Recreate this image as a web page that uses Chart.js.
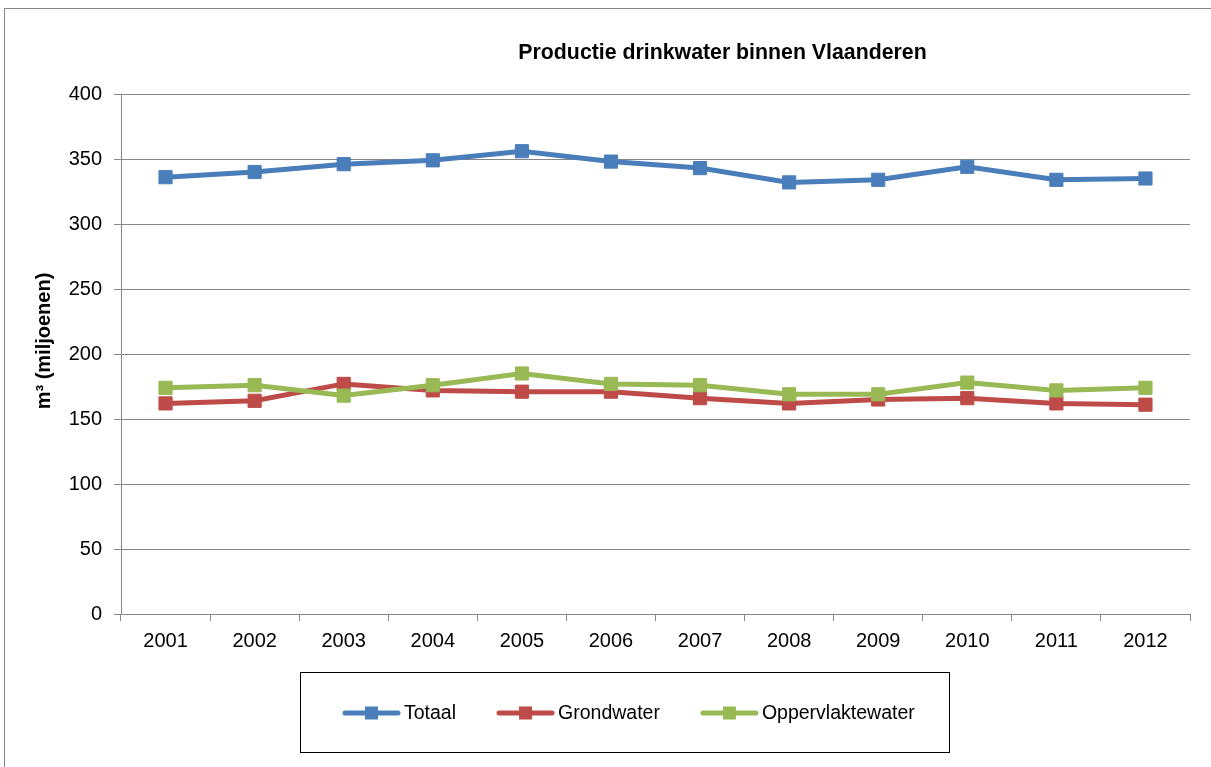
<!DOCTYPE html>
<html><head><meta charset="utf-8">
<script src="https://cdn.jsdelivr.net/npm/chart.js@4"></script>
<style>html,body{margin:0;padding:0;background:#fff}canvas{display:block}</style>
</head><body><canvas id="c" width="1211" height="767"></canvas>
<script>
const chartTitle = 'Productie drinkwater binnen Vlaanderen';
const yAxisTitle = 'm³ (miljoenen)';
const years = ['2001','2002','2003','2004','2005','2006','2007','2008','2009','2010','2011','2012'];
const totaal = [336, 340, 346, 349, 356, 348, 343, 332, 334, 344, 334, 335];
const grondwater = [162, 164, 177, 172, 171, 171, 166, 162, 165, 166, 162, 161];
const oppervlaktewater = [174, 176, 168, 176, 185, 177, 176, 169, 169, 178, 172, 174];
const seriesNames = ['Totaal', 'Grondwater', 'Oppervlaktewater'];
const seriesColors = ['#4A7EBB', '#BE4B48', '#98B954'];

const FONT = "'Liberation Sans', Arial, sans-serif";
const GRID = '#868686';

const frame = {
  id: 'frame',
  beforeDraw(chart) {
    const ctx = chart.ctx;
    ctx.save();
    ctx.fillStyle = '#fff';
    ctx.fillRect(0, 0, chart.width, chart.height);
    ctx.strokeStyle = GRID;
    ctx.lineWidth = 1;
    ctx.strokeRect(4.5, 8.5, 1300, 800);
    ctx.restore();
  },
  afterDraw(chart) {
    const ctx = chart.ctx;
    ctx.save();
    // title
    ctx.fillStyle = '#000';
    ctx.font = 'bold 21.3px ' + FONT;
    ctx.textAlign = 'center';
    ctx.textBaseline = 'middle';
    ctx.fillText(chartTitle, 722.5, 53);
    // y axis title
    ctx.font = 'bold 20px ' + FONT;
    ctx.save();
    ctx.translate(44, 341);
    ctx.rotate(-Math.PI / 2);
    ctx.fillText(yAxisTitle, 0, 0);
    ctx.restore();
    // legend box
    ctx.strokeStyle = '#000';
    ctx.lineWidth = 1;
    ctx.strokeRect(300.5, 672.5, 649, 80);
    ctx.font = '19.5px ' + FONT;
    ctx.textAlign = 'left';
    let x = 343;
    const y = 713;
    chart.data.datasets.forEach((ds, i) => {
      ctx.strokeStyle = ds.borderColor;
      ctx.lineWidth = 5;
      ctx.lineCap = 'round';
      ctx.beginPath();
      ctx.moveTo(x + 2, y);
      ctx.lineTo(x + 55, y);
      ctx.stroke();
      ctx.fillStyle = ds.borderColor;
      ctx.fillRect(x + 22, y - 6.5, 13, 13);
      ctx.fillStyle = '#000';
      ctx.fillText(ds.label, x + 61, y + 1);
      x = x + 61 + ctx.measureText(ds.label).width + 41;
    });
    ctx.restore();
  }
};

const mk = (i, data, order) => ({
  label: seriesNames[i],
  data: data,
  borderColor: seriesColors[i],
  backgroundColor: seriesColors[i],
  pointBackgroundColor: seriesColors[i],
  pointBorderColor: seriesColors[i],
  pointBorderWidth: 1,
  borderWidth: 5,
  pointStyle: 'rect',
  pointRadius: 9.3,
  tension: 0,
  order: order
});

new Chart(document.getElementById('c'), {
  type: 'line',
  data: {
    labels: years,
    datasets: [mk(0, totaal, 2), mk(1, grondwater, 1), mk(2, oppervlaktewater, 0)]
  },
  options: {
    responsive: false,
    animation: false,
    devicePixelRatio: 1,
    layout: { padding: { left: 0, right: 21, top: 94, bottom: 103 }, autoPadding: false },
    plugins: { legend: { display: false }, title: { display: false }, tooltip: { enabled: false } },
    scales: {
      x: {
        offset: true,
        grid: { offset: true, drawOnChartArea: false, drawTicks: true, tickLength: 7, color: GRID },
        border: { display: true, color: GRID, width: 1 },
        ticks: { color: '#000', font: { family: FONT, size: 20 }, padding: 8, maxRotation: 0, autoSkip: false },
        afterFit(s) { s.height = 50; }
      },
      y: {
        min: 0, max: 400,
        grid: { color: GRID, tickLength: 7, drawTicks: true },
        border: { display: true, color: GRID, width: 1 },
        ticks: { stepSize: 50, color: '#000', font: { family: FONT, size: 20 }, padding: 12 },
        afterFit(s) { s.width = 121; }
      }
    }
  },
  plugins: [frame]
});
</script>
</body></html>
